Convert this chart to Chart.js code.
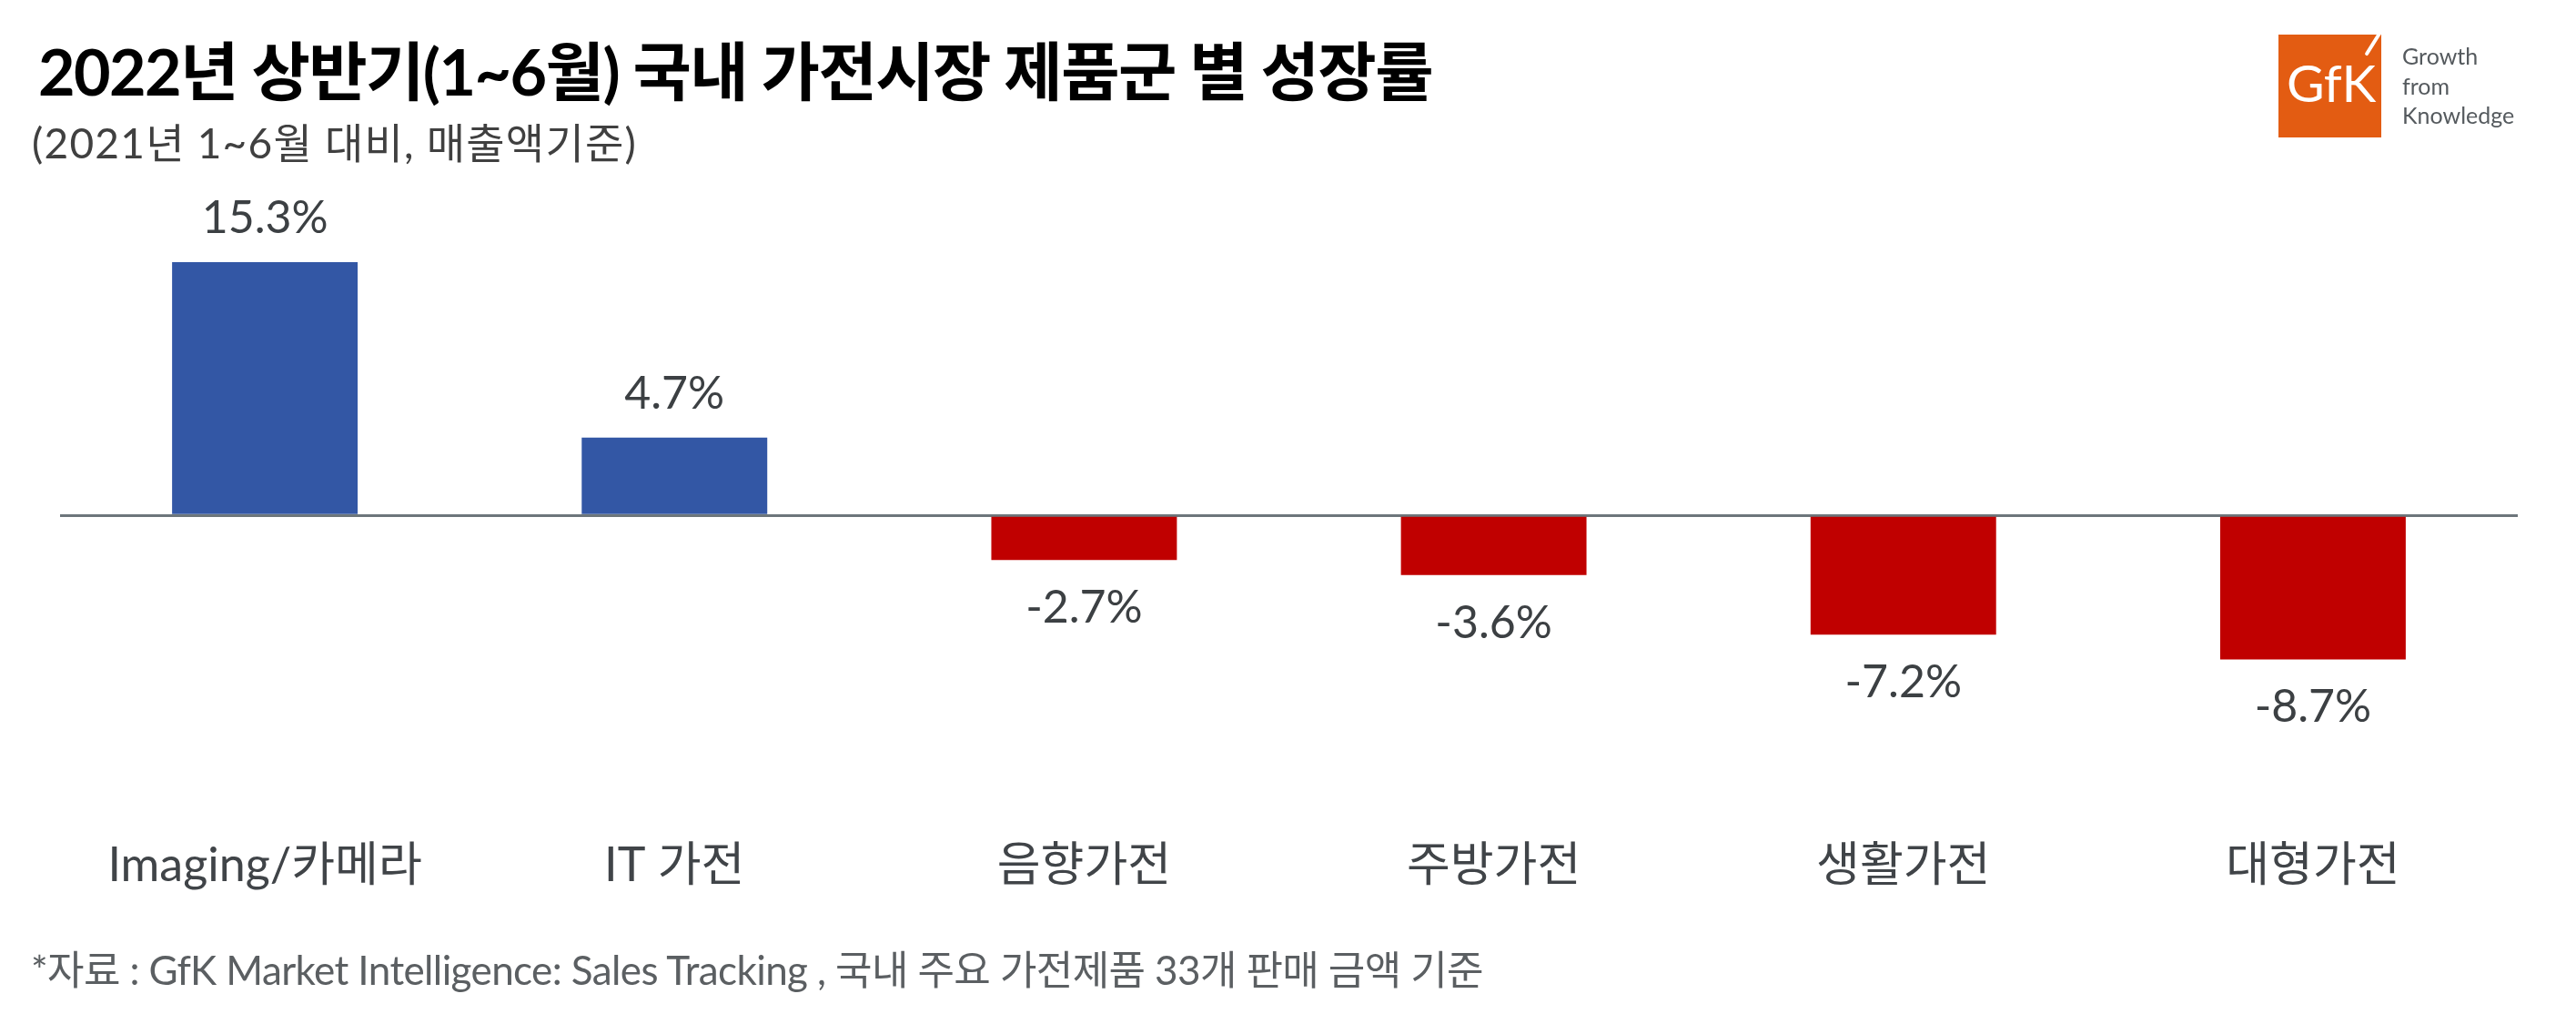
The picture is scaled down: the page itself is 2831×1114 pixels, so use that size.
<!DOCTYPE html>
<html>
<head>
<meta charset="utf-8">
<script src="https://cdn.jsdelivr.net/npm/chart.js@4.4.1/dist/chart.umd.min.js"></script>
<style>
html,body{margin:0;padding:0;background:#fff;}
#wrap{position:relative;width:2831px;height:1114px;overflow:hidden;background:#fff;}
#c{position:absolute;left:0;top:0;}
.t{position:absolute;white-space:nowrap;line-height:1;font-family:Lato,"Noto Sans CJK KR",sans-serif;}
#logoBox{position:absolute;left:2504px;top:38px;width:113px;height:113px;background:#e35c12;}
#logoTxt{position:absolute;left:9px;top:24px;font-family:Lato,sans-serif;font-weight:400;font-size:57px;line-height:1;color:#fff;white-space:nowrap;}
#logoAcc{position:absolute;left:2606px;top:33px;width:4px;height:30px;background:#fff;transform:rotate(32deg);transform-origin:50% 50%;border-radius:2px;}
#tag{position:absolute;left:2640px;top:45px;font-family:Lato,sans-serif;font-size:25px;line-height:32.5px;color:#555a5e;}
</style>
</head>
<body>
<div id="wrap">
  <canvas id="c" width="2831" height="1114"></canvas>
  <div class="t" id="title" data-w="1532" style="left:42px;top:43px;font-size:70px;font-weight:700;color:#000;">2022년 상반기(1~6월) 국내 가전시장 제품군 별 성장률</div>
  <div class="t" id="subtitle" data-w="665" style="left:35px;top:134px;font-size:46px;color:#404040;">(2021년 1~6월 대비, 매출액기준)</div>
  <div class="t" id="footnote" data-w="1596" style="left:34px;top:1043px;font-size:44px;color:#5b5f62;">*자료 : GfK Market Intelligence: Sales Tracking , 국내 주요 가전제품 33개 판매 금액 기준</div>
  <div id="logoBox"><div id="logoTxt">GfK</div></div>
  <div id="logoAcc"></div>
  <div id="tag">Growth<br>from<br>Knowledge</div>
</div>
<script>
// ---- data ----
const categories = ['Imaging/카메라', 'IT 가전', '음향가전', '주방가전', '생활가전', '대형가전'];
const growthValues = [15.3, 4.7, -2.7, -3.6, -7.2, -8.7];
const yMin = -18;
const yMax = 17;

// ---- fit text widths ----
document.querySelectorAll('[data-w]').forEach(el => {
  const target = +el.dataset.w;
  el.style.letterSpacing = '0px';
  const w = el.getBoundingClientRect().width;
  const n = [...el.textContent].length;
  el.style.letterSpacing = ((target - w) / n) + 'px';
});

const BLUE = '#3357a5';
const RED = '#c00000';
const FONT = "Lato, 'Noto Sans CJK KR', sans-serif";

const valueLabels = {
  id: 'valueLabels',
  afterDatasetsDraw(chart) {
    const ctx = chart.ctx;
    const meta = chart.getDatasetMeta(0);
    const vals = chart.data.datasets[0].data;
    ctx.save();
    ctx.font = '50px ' + FONT;
    ctx.fillStyle = '#3c4043';
    ctx.textAlign = 'center';
    ctx.textBaseline = 'alphabetic';
    meta.data.forEach((bar, i) => {
      const v = vals[i];
      const y = v >= 0 ? bar.y - 32 : bar.y + 69;
      ctx.fillText(v.toFixed(1) + '%', bar.x, y);
    });
    ctx.restore();
  }
};

new Chart(document.getElementById('c'), {
  type: 'bar',
  data: {
    labels: categories,
    datasets: [{
      data: growthValues,
      backgroundColor: c => (c.raw >= 0 ? BLUE : RED),
      borderWidth: 0,
      barPercentage: 0.453,
      categoryPercentage: 1
    }]
  },
  options: {
    responsive: false,
    animation: false,
    devicePixelRatio: 1,
    layout: { padding: { left: 66, right: 64, top: 257, bottom: 106 } },
    plugins: { legend: { display: false }, tooltip: { enabled: false }, title: { display: false } },
    scales: {
      x: {
        grid: { display: false, drawTicks: false },
        border: { display: false },
        ticks: {
          padding: 26,
          maxRotation: 0,
          autoSkip: false,
          color: '#404448',
          font: { family: FONT, size: 52 }
        }
      },
      y: {
        min: yMin,
        max: yMax,
        ticks: { display: false, stepSize: 1 },
        grid: {
          drawTicks: false,
          color: c => (c.tick && c.tick.value === 0 ? '#6d767b' : 'rgba(0,0,0,0)'),
          lineWidth: c => (c.tick && c.tick.value === 0 ? 3 : 1)
        },
        border: { display: false }
      }
    }
  },
  plugins: [valueLabels]
});
</script>
</body>
</html>
